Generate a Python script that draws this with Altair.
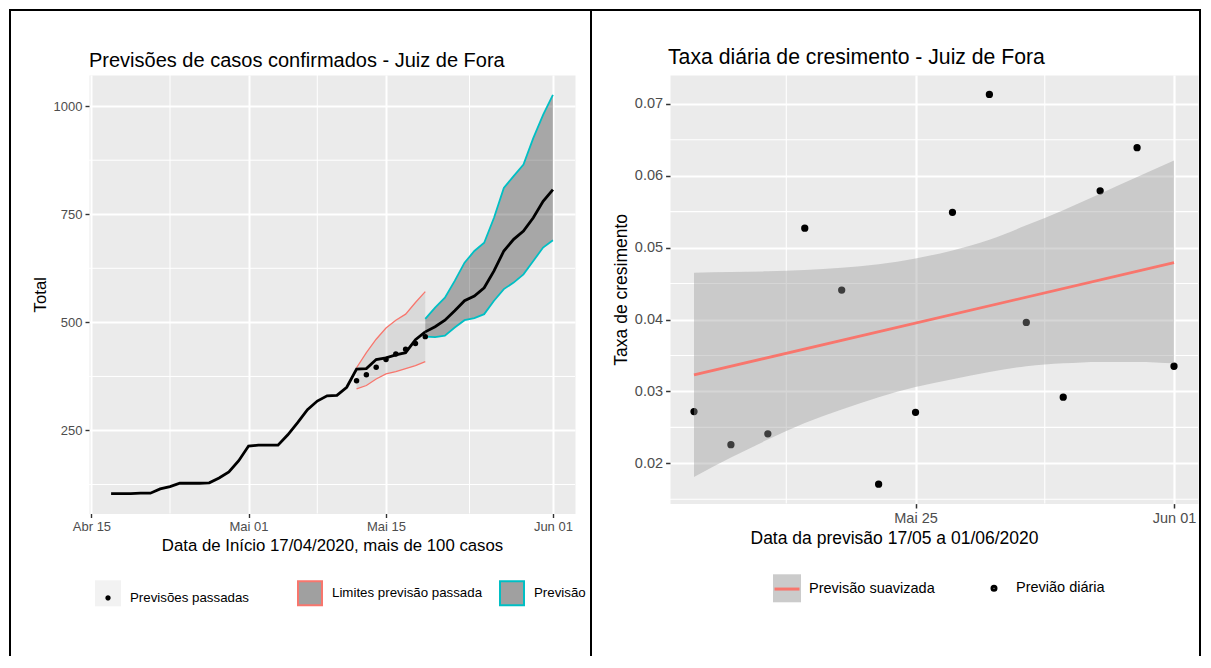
import altair as alt
import pandas as pd

FONT = "Liberation Sans"
PANEL_BG = "#EBEBEB"
RED = "#F8766D"
TEAL = "#00BFC4"
MONTHS_PT = ["Jan", "Fev", "Mar", "Abr", "Mai", "Jun", "Jul", "Ago", "Set", "Out", "Nov", "Dez"]

# ---------------- left panel: confirmed cases ----------------
obs_dates = pd.date_range("2020-04-17", "2020-05-19", freq="D").strftime("%Y-%m-%d").tolist()
obs_total = [104, 104, 104, 105, 105, 115, 120, 128, 128, 128, 129, 140, 154, 180,
             214, 216, 216, 216, 240, 268, 298, 318, 330, 331, 350, 392, 393, 414, 418,
             425, 430, 460, 478]
past_dates = pd.date_range("2020-05-12", "2020-05-19", freq="D").strftime("%Y-%m-%d").tolist()
past_pred = [365, 379, 396, 414, 427, 438, 451, 467]
past_hi = [395, 430, 461, 487, 505, 519, 546, 571]
past_lo = [346, 354, 369, 381, 386, 393, 400, 409]
fc_dates = pd.date_range("2020-05-19", "2020-06-01", freq="D").strftime("%Y-%m-%d").tolist()
fc_mid = [478, 490, 505, 527, 550, 561, 580, 619, 665, 692, 711, 742, 780, 807]
fc_hi = [508, 534, 557, 596, 638, 665, 684, 742, 811, 838, 865, 926, 980, 1026]
fc_lo = [467, 466, 469, 488, 505, 510, 519, 550, 577, 592, 611, 642, 673, 690]

left_title = "Previsões de casos confirmados - Juiz de Fora"
left_xtitle = "Data de Início 17/04/2020, mais de 100 casos"
left_ytitle = "Total"
left_xdomain = ["2020-04-14T18:00:00Z", "2020-06-03T06:00:00Z"]
left_xticks = ["2020-04-15", "2020-05-01", "2020-05-15", "2020-06-01"]
left_xminor = ["2020-04-23T00:00:00Z", "2020-05-08T00:00:00Z", "2020-05-23T12:00:00Z"]
left_ydomain = [58, 1072]
left_yticks = [250, 500, 750, 1000]
left_yminor = [125, 375, 625, 875]
left_legend = ["Previsões passadas", "Limites previsão passada", "Previsão"]

# ---------------- right panel: daily growth rate ----------------
rate_dates = pd.date_range("2020-05-19", "2020-06-01", freq="D").strftime("%Y-%m-%d").tolist()
rate_vals = [0.0272, 0.0226, 0.0241, 0.0527, 0.0441, 0.0171, 0.0271,
             0.0549, 0.0713, 0.0396, 0.0292, 0.0579, 0.0639, 0.0335]
band_hi = [0.0465, 0.0466, 0.0467, 0.0469, 0.0472, 0.0477, 0.0485,
           0.0496, 0.0511, 0.0531, 0.0552, 0.0575, 0.0598, 0.0621]
band_lo = [0.0181, 0.0208, 0.0233, 0.0256, 0.0275, 0.0292, 0.0306,
           0.0317, 0.0327, 0.0335, 0.0339, 0.0341, 0.0341, 0.0339]
smooth_dates = ["2020-05-19", "2020-06-01"]
smooth_vals = [0.0323, 0.0479]

right_title = "Taxa diária de cresimento - Juiz de Fora"
right_xtitle = "Data da previsão 17/05 a 01/06/2020"
right_ytitle = "Taxa de cresimento"
right_xdomain = ["2020-05-18T08:24:00Z", "2020-06-01T15:36:00Z"]
right_xticks = ["2020-05-25", "2020-06-01"]
right_xminor = ["2020-05-21T12:00:00Z", "2020-05-28T12:00:00Z"]
right_ydomain = [0.0144, 0.0740]
right_yticks = [0.02, 0.03, 0.04, 0.05, 0.06, 0.07]
right_yminor = [0.015, 0.025, 0.035, 0.045, 0.055, 0.065]
right_legend = ["Previsão suavizada", "Previão diária"]


def ms(s):
    t = pd.Timestamp(s)
    if t.tzinfo is None:
        t = t.tz_localize("UTC")
    return int(t.value // 10**6)


MONTH_EXPR = ("[" + ",".join("'%s'" % m for m in MONTHS_PT) +
              "][utcmonth(datum.value)] + ' ' + utcFormat(datum.value, '%d')")

AX = dict(domain=False, grid=True, gridColor="white", tickColor="#333333",
          labelColor="#4D4D4D", labelFont=FONT, titleFont=FONT, titleColor="black",
          titleFontWeight="normal", labelFlush=False, labelPadding=3, titlePadding=4)


def axis_l(**kw):
    return alt.Axis(labelFontSize=13, titleFontSize=16.8, tickSize=4, tickWidth=1.4,
                    gridWidth=2, **AX, **kw)


def axis_r(**kw):
    return alt.Axis(labelFontSize=14.5, titleFontSize=17.5, tickSize=4.4, tickWidth=1.5,
                    gridWidth=2.2, **AX, **kw)


def L_x(field="d"):
    return alt.X(f"{field}:T",
                 scale=alt.Scale(type="utc", domain=[ms(v) for v in left_xdomain], nice=False),
                 axis=axis_l(values=[ms(v) for v in left_xticks], labelExpr=MONTH_EXPR,
                             title=left_xtitle))


def L_y(field="v"):
    return alt.Y(f"{field}:Q", scale=alt.Scale(domain=left_ydomain, nice=False, zero=False),
                 axis=axis_l(values=left_yticks, format="d", title=left_ytitle))


def R_x(field="d"):
    return alt.X(f"{field}:T",
                 scale=alt.Scale(type="utc", domain=[ms(v) for v in right_xdomain], nice=False),
                 axis=axis_r(values=[ms(v) for v in right_xticks], labelExpr=MONTH_EXPR,
                             title=right_xtitle, titleX=224, titleY=39.5,
                             titleAlign="center", titleBaseline="alphabetic"))


def R_y(field="v"):
    return alt.Y(f"{field}:Q", scale=alt.Scale(domain=right_ydomain, nice=False, zero=False),
                 axis=axis_r(values=right_yticks, format=".2f", title=right_ytitle))


def leg(x, y, cols, cpad, size, sw, fs, z, label_expr=None, symbol_type=None,
        label_offset=9):
    kw = dict(orient="none", legendX=x, legendY=y, direction="horizontal", columns=cols,
              gridAlign="all", columnPadding=cpad, labelOffset=label_offset, labelFont=FONT,
              labelFontSize=fs, labelColor="black", labelLimit=400, title=None,
              symbolSize=size, symbolStrokeWidth=sw, padding=0, zindex=z, rowPadding=0)
    if label_expr:
        kw["labelExpr"] = label_expr
    if symbol_type:
        kw["symbolType"] = symbol_type
    return alt.Legend(**kw)


def frame(x, x2, y, y2):
    enc = dict(x=alt.value(x), y=alt.value(y))
    if x2 is not None:
        enc["x2"] = alt.value(x2)
    if y2 is not None:
        enc["y2"] = alt.value(y2)
    return alt.Chart(alt.Data(values=[{}])).mark_rule(
        color="black", strokeWidth=2, strokeCap="square").encode(**enc)


def title_mark(text, x, y, fs):
    return alt.Chart(alt.Data(values=[{}])).mark_text(
        align="left", baseline="alphabetic", font=FONT, fontSize=fs, color="black"
    ).encode(x=alt.value(x), y=alt.value(y), text=alt.value(text))


TOP_RULE = -65
BOTTOM_RULE = 580

# ---------------- build left ----------------
dfL_obs = pd.DataFrame({"d": obs_dates, "v": obs_total})
dfL_past = pd.DataFrame({"d": past_dates, "v": past_pred, "lo": past_lo, "hi": past_hi})
dfL_fc = pd.DataFrame({"d": fc_dates, "v": fc_mid, "lo": fc_lo, "hi": fc_hi})
dfL_xminor = pd.DataFrame({"d": left_xminor})
dfL_yminor = pd.DataFrame({"v": left_yminor})
dfL_legA = pd.DataFrame({"d": ["2020-05-01"], "v": [0], "key": ["bg"]})
dfL_legB = pd.DataFrame({"d": ["2020-05-01"] * 3, "v": [0] * 3, "entry": left_legend})

LX, LY = 6, 505.3
DOT_L = "M-0.22,0A0.22,0.22,0,1,0,0.22,0A0.22,0.22,0,1,0,-0.22,0Z"

legL_bg = leg(LX, LY, 3, 13, 676, 0, 13.3, 1, label_expr="''", symbol_type="square")
legL = leg(LX, LY, 3, 13, 576, 2, 13.3, 2)

left_layers = [
    alt.Chart(dfL_xminor).mark_rule(color="white", strokeWidth=1).encode(x=L_x()),
    alt.Chart(dfL_yminor).mark_rule(color="white", strokeWidth=1).encode(y=L_y()),
    alt.Chart(dfL_past).mark_area(color="black", opacity=0.075).encode(
        x=L_x(), y=L_y("lo"), y2=alt.Y2("hi")),
    alt.Chart(dfL_fc).mark_area(color="black", opacity=0.29).encode(
        x=L_x(), y=L_y("lo"), y2=alt.Y2("hi")),
    alt.Chart(dfL_past).mark_line(color=RED, strokeWidth=1.3).encode(x=L_x(), y=L_y("hi")),
    alt.Chart(dfL_past).mark_line(color=RED, strokeWidth=1.3).encode(x=L_x(), y=L_y("lo")),
    alt.Chart(dfL_fc).mark_line(color=TEAL, strokeWidth=1.8).encode(x=L_x(), y=L_y("hi")),
    alt.Chart(dfL_fc).mark_line(color=TEAL, strokeWidth=1.8).encode(x=L_x(), y=L_y("lo")),
    alt.Chart(dfL_obs).mark_line(color="black", strokeWidth=2.8).encode(x=L_x(), y=L_y()),
    alt.Chart(dfL_fc).mark_line(color="black", strokeWidth=2.8).encode(x=L_x(), y=L_y()),
    alt.Chart(dfL_past).mark_circle(color="black", size=30, opacity=1).encode(x=L_x(), y=L_y()),
    alt.Chart(dfL_legA).mark_point(filled=True, shape="square", size=676, strokeWidth=0,
                                   opacity=1, clip=True).encode(
        x=L_x(), y=L_y(),
        color=alt.Color("key:N", scale=alt.Scale(domain=["bg"], range=["#F2F2F2"]),
                        legend=legL_bg),
    ),
    alt.Chart(dfL_legB).mark_point(filled=True, size=576, strokeWidth=2,
                                   opacity=1, clip=True).encode(
        x=L_x(), y=L_y(),
        fill=alt.Fill("entry:N", scale=alt.Scale(domain=left_legend,
                                                 range=["black", "#A0A0A0", "#A0A0A0"]),
                      legend=legL),
        stroke=alt.Stroke("entry:N", scale=alt.Scale(domain=left_legend,
                                                     range=["transparent", RED, TEAL]),
                          legend=legL),
        shape=alt.Shape("entry:N", scale=alt.Scale(domain=left_legend,
                                                   range=[DOT_L, "square", "square"]),
                        legend=legL),
    ),
    title_mark(left_title, 0, -8.5, 20),
    frame(-79, None, TOP_RULE, BOTTOM_RULE),
    frame(-79, 502, TOP_RULE, None),
    frame(502, None, TOP_RULE, BOTTOM_RULE),
]

left = alt.layer(*left_layers).properties(width=486, height=438.5)

# ---------------- build right ----------------
dfR_pts = pd.DataFrame({"d": rate_dates, "v": rate_vals})
dfR_band = pd.DataFrame({"d": rate_dates, "lo": band_lo, "hi": band_hi})
dfR_smooth = pd.DataFrame({"d": smooth_dates, "v": smooth_vals})
dfR_xminor = pd.DataFrame({"d": right_xminor})
dfR_yminor = pd.DataFrame({"v": right_yminor})
dfR_legA = pd.DataFrame({"d": ["2020-05-25"], "v": [0.005], "key": ["bg"]})
dfR_legB = pd.DataFrame({"d": ["2020-05-25"] * 2, "v": [0.005] * 2, "entry": right_legend})

RX, RY = 103, 499.3
LINE_R = "M-1,0L1,0"
DOT_R = "M-0.16,0A0.16,0.16,0,1,0,0.16,0A0.16,0.16,0,1,0,-0.16,0Z"

legR_bg = leg(RX, RY, 2, 45, 784, 0, 14.5, 1, label_expr="''", symbol_type="square",
              label_offset=8)
legR = leg(RX, RY, 2, 45, 625, 3, 14.5, 2, label_offset=8)

right_layers = [
    alt.Chart(dfR_xminor).mark_rule(color="white", strokeWidth=1.1).encode(x=R_x()),
    alt.Chart(dfR_yminor).mark_rule(color="white", strokeWidth=1.1).encode(y=R_y()),
    alt.Chart(dfR_pts).mark_circle(color="black", size=53, opacity=1).encode(x=R_x(), y=R_y()),
    alt.Chart(dfR_band).mark_area(color="#999999", opacity=0.4, interpolate="monotone").encode(
        x=R_x(), y=R_y("lo"), y2=alt.Y2("hi")),
    alt.Chart(dfR_smooth).mark_line(color=RED, strokeWidth=2.8).encode(x=R_x(), y=R_y()),
    alt.Chart(dfR_legA).mark_point(filled=True, shape="square", size=784, strokeWidth=0,
                                   opacity=1, clip=True).encode(
        x=R_x(), y=R_y(),
        color=alt.Color("key:N", scale=alt.Scale(domain=["bg"], range=["#CBCBCB"]),
                        legend=legR_bg),
    ),
    alt.Chart(dfR_legB).mark_point(filled=False, size=625, strokeWidth=3,
                                   opacity=1, clip=True).encode(
        x=R_x(), y=R_y(),
        stroke=alt.Stroke("entry:N", scale=alt.Scale(domain=right_legend, range=[RED, "black"]),
                          legend=legR),
        shape=alt.Shape("entry:N", scale=alt.Scale(domain=right_legend, range=[LINE_R, DOT_R]),
                        legend=legR),
    ),
    title_mark(right_title, -2, -11, 21.2),
    frame(-77, 530, TOP_RULE, None),
    frame(530, None, TOP_RULE, BOTTOM_RULE),
]

right = alt.layer(*right_layers).properties(width=528, height=428.6)

chart = alt.hconcat(left, right, spacing=-2).resolve_scale(
    fill="independent", stroke="independent", color="independent", shape="independent"
).properties(
    padding={"left": 0, "top": 0, "right": 0, "bottom": 0}
).configure(background="white").configure_view(fill=PANEL_BG, stroke="transparent")

chart.save("out.html", embed_options={"renderer": "svg", "actions": False})
